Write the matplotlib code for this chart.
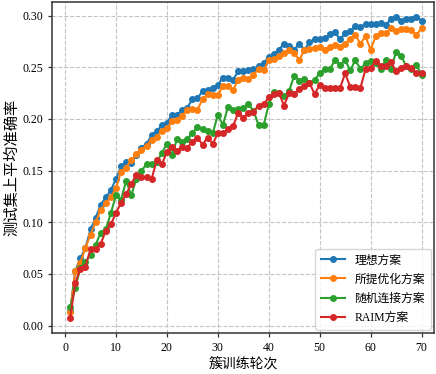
import numpy as np
import matplotlib
matplotlib.use("Agg")
import matplotlib.pyplot as plt

plt.rcParams["font.family"] = ["Liberation Serif", "Noto Sans CJK SC"]
plt.rcParams["axes.unicode_minus"] = False

epochs = np.arange(1, 71)

ideal = [
    0.014, 0.053, 0.065, 0.075, 0.093, 0.104, 0.117, 0.124, 0.131, 0.142,
    0.154, 0.158, 0.157, 0.165, 0.172, 0.176, 0.184, 0.188, 0.194, 0.196,
    0.204, 0.204, 0.209, 0.211, 0.219, 0.220, 0.227, 0.228, 0.230, 0.233,
    0.240, 0.240, 0.238, 0.246, 0.246, 0.247, 0.248, 0.251, 0.254, 0.260,
    0.263, 0.267, 0.273, 0.271, 0.267, 0.273, 0.267, 0.274, 0.277, 0.277,
    0.278, 0.282, 0.284, 0.277, 0.283, 0.285, 0.290, 0.289, 0.292, 0.292,
    0.292, 0.293, 0.291, 0.297, 0.299, 0.295, 0.297, 0.297, 0.299, 0.295,
]
proposed = [
    0.013, 0.053, 0.061, 0.075, 0.088, 0.100, 0.112, 0.119, 0.124, 0.133,
    0.149, 0.153, 0.160, 0.166, 0.170, 0.174, 0.180, 0.183, 0.188, 0.191,
    0.198, 0.199, 0.203, 0.209, 0.210, 0.209, 0.219, 0.224, 0.223, 0.223,
    0.232, 0.232, 0.228, 0.238, 0.240, 0.239, 0.243, 0.248, 0.247, 0.257,
    0.258, 0.261, 0.264, 0.267, 0.264, 0.257, 0.267, 0.268, 0.269, 0.270,
    0.267, 0.270, 0.272, 0.270, 0.273, 0.277, 0.281, 0.273, 0.280, 0.267,
    0.280, 0.283, 0.283, 0.288, 0.285, 0.287, 0.287, 0.286, 0.281, 0.288,
]
random_conn = [
    0.018, 0.036, 0.056, 0.062, 0.068, 0.078, 0.090, 0.093, 0.109, 0.126,
    0.122, 0.140, 0.126, 0.142, 0.150, 0.156, 0.156, 0.158, 0.167, 0.176,
    0.165, 0.181, 0.178, 0.181, 0.186, 0.192, 0.190, 0.188, 0.186, 0.204,
    0.194, 0.212, 0.209, 0.210, 0.211, 0.214, 0.208, 0.194, 0.194, 0.214,
    0.226, 0.225, 0.222, 0.227, 0.242, 0.237, 0.239, 0.235, 0.238, 0.244,
    0.248, 0.248, 0.257, 0.252, 0.257, 0.247, 0.257, 0.248, 0.254, 0.256,
    0.254, 0.248, 0.257, 0.248, 0.265, 0.261, 0.251, 0.248, 0.252, 0.243,
]
raim = [
    0.007, 0.041, 0.055, 0.057, 0.074, 0.074, 0.079, 0.092, 0.098, 0.109,
    0.119, 0.127, 0.137, 0.146, 0.144, 0.144, 0.142, 0.160, 0.156, 0.168,
    0.173, 0.169, 0.173, 0.172, 0.178, 0.182, 0.175, 0.182, 0.176, 0.186,
    0.186, 0.190, 0.193, 0.206, 0.201, 0.206, 0.207, 0.213, 0.214, 0.221,
    0.224, 0.225, 0.213, 0.225, 0.224, 0.229, 0.232, 0.235, 0.224, 0.233,
    0.230, 0.230, 0.230, 0.230, 0.244, 0.231, 0.231, 0.230, 0.248, 0.249,
    0.256, 0.251, 0.251, 0.255, 0.246, 0.249, 0.251, 0.249, 0.244, 0.244,
]

labels = ["理想方案", "所提优化方案", "随机连接方案", "RAIM方案"]
colors = ["#1f77b4", "#ff7f0e", "#2ca02c", "#d62728"]

fig = plt.figure(figsize=(4.36, 3.74), dpi=100)
ax = fig.add_axes([0.120, 0.109, 0.876, 0.886])

for ys, lab, c in zip([ideal, proposed, random_conn, raim], labels, colors):
    ax.plot(epochs, ys, marker="o", markersize=4, linewidth=1.5, color=c, label=lab)

ax.set_xlim(-2.5, 72.5)
ax.set_ylim(-0.0074, 0.3133)
ax.set_xticks(range(0, 71, 10))
ax.set_yticks(np.arange(0, 0.301, 0.05))
ax.yaxis.set_major_formatter(matplotlib.ticker.FormatStrFormatter("%.2f"))
ax.grid(True, linestyle="--", color="#c4c4c4", linewidth=0.8)
ax.set_axisbelow(True)
for sp in ax.spines.values():
    sp.set_color("#333333")
    sp.set_linewidth(1.1)
ax.tick_params(direction="out", length=3, width=0.9, colors="#333333",
               labelcolor="black", labelsize=8.5)

ax.set_xlabel("簇训练轮次", fontsize=10, labelpad=3)
ax.set_ylabel("测试集上平均准确率", fontsize=11, labelpad=2)

leg = ax.legend(loc="lower right", fontsize=8.5, frameon=True, fancybox=True,
                borderpad=0.5, labelspacing=0.6, handlelength=2.0,
                borderaxespad=0.3)
leg.get_frame().set_edgecolor("#cccccc")

fig.savefig("out.png", dpi=100)
